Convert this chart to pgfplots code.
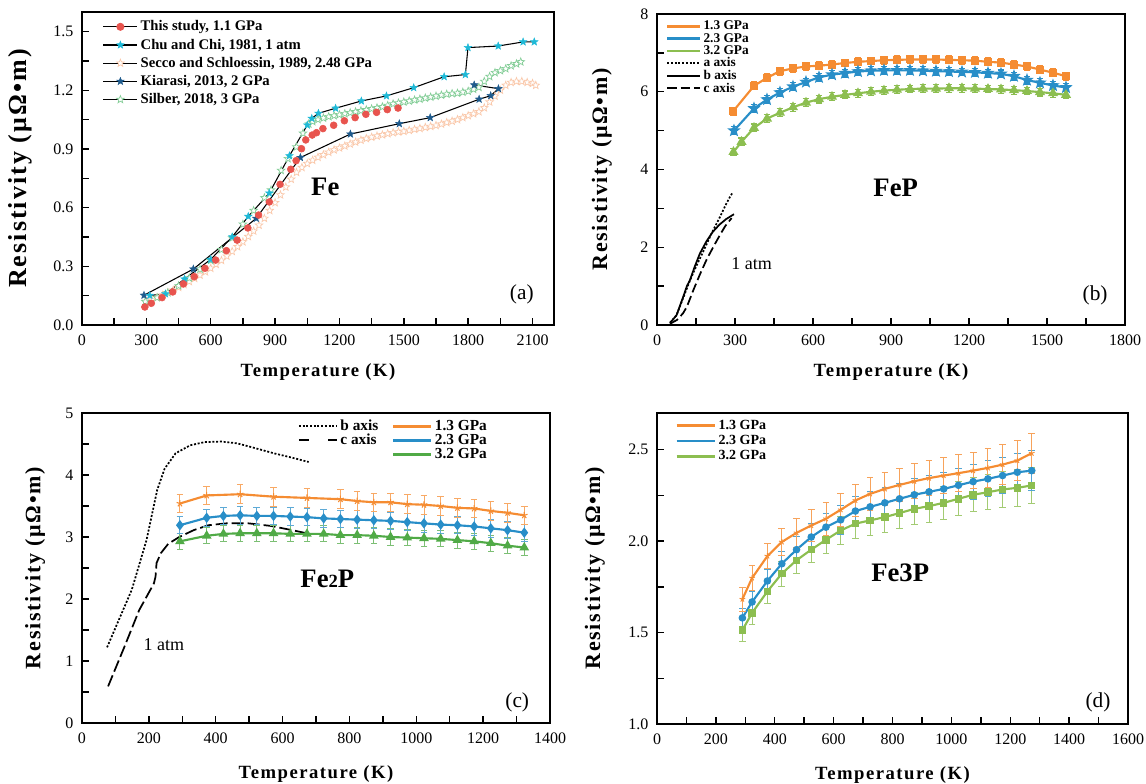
\documentclass[border=0pt]{standalone}
\usepackage{fontspec}
\setmainfont{Liberation Serif}
\newfontfamily\labfont[LetterSpace=8]{Liberation Serif}
\usepackage{pgfplots}
\pgfplotsset{compat=1.18}
\usetikzlibrary{plotmarks}

\definecolor{redc}{RGB}{232,84,78}
\definecolor{cyanc}{RGB}{30,185,215}
\definecolor{peach}{RGB}{250,200,170}
\definecolor{dblue}{RGB}{30,90,140}
\definecolor{lgreen}{RGB}{130,205,150}
\definecolor{orng}{RGB}{245,140,50}
\definecolor{blu}{RGB}{40,142,200}
\definecolor{grnb}{RGB}{140,190,80}
\definecolor{grnc}{RGB}{80,170,70}

% filled five-pointed star
\pgfdeclareplotmark{fstar}{%
  \pgfpathmoveto{\pgfpointpolar{90}{\pgfplotmarksize}}%
  \pgfpathlineto{\pgfpointpolar{126}{0.42\pgfplotmarksize}}%
  \pgfpathlineto{\pgfpointpolar{162}{\pgfplotmarksize}}%
  \pgfpathlineto{\pgfpointpolar{198}{0.42\pgfplotmarksize}}%
  \pgfpathlineto{\pgfpointpolar{234}{\pgfplotmarksize}}%
  \pgfpathlineto{\pgfpointpolar{270}{0.42\pgfplotmarksize}}%
  \pgfpathlineto{\pgfpointpolar{306}{\pgfplotmarksize}}%
  \pgfpathlineto{\pgfpointpolar{342}{0.42\pgfplotmarksize}}%
  \pgfpathlineto{\pgfpointpolar{18}{\pgfplotmarksize}}%
  \pgfpathlineto{\pgfpointpolar{54}{0.42\pgfplotmarksize}}%
  \pgfpathclose\pgfusepathqfillstroke}

\pgfplotsset{
  panel/.style={
    scale only axis, anchor=south west,
    axis line style={line width=1.1pt},
    every tick/.style={black, line width=1.1pt},
    major tick length=5pt, minor tick length=5pt,
    tick align=inside, xtick pos=lower, ytick pos=left,
    ticklabel style={font=\fontsize{12}{14}\selectfont},
    xticklabel style={yshift=-4pt}, yticklabel style={xshift=-3pt},
    /pgf/number format/assume math mode=true,
    /pgf/number format/1000 sep={},
    scaled ticks=false,
    xlabel={Temperature (K)}, ylabel={Resistivity (μΩ•m)},
    xlabel style={font=\labfont\bfseries\fontsize{14}{16}\selectfont},
    ylabel style={font=\labfont\bfseries\fontsize{16.5}{18}\selectfont},
    legend cell align=left,
  },
}

\begin{document}
\begin{tikzpicture}
\path[use as bounding box] (0,0) rectangle (859.5pt,588pt);

% ---------------- (a) Fe
\begin{axis}[panel, at={(61.5pt,344.25pt)}, width=354pt, height=234.75pt,
  xmin=0, xmax=2200, ymin=0, ymax=1.6,
  xtick={0,300,600,900,1200,1500,1800,2100}, minor x tick num=1,
  ytick={0,0.3,0.6,0.9,1.2,1.5}, minor y tick num=1,
  yticklabel style={/pgf/number format/.cd, fixed, fixed zerofill, precision=1},
  xlabel style={at={(rel axis cs:0.5,-0.15)}, anchor=center},
  ylabel style={at={(rel axis cs:-0.13,0.5)}, anchor=center, font=\labfont\bfseries\fontsize{19.5}{21}\selectfont},
  legend image code/.code={\draw[mark repeat=2,mark phase=2,#1] plot coordinates {(0cm,0cm) (0.45cm,0cm) (0.9cm,0cm)};},
  legend style={at={(0.035,0.99)}, anchor=north west, draw=none, fill=none,
    font=\bfseries\fontsize{11}{12}\selectfont, row sep=0.5pt},
]
\addlegendimage{black, line width=0.8pt, mark=*, mark options={draw=redc, fill=redc, mark size=2.6pt}}
\addlegendentry{This study, 1.1 GPa}
\addlegendimage{black, line width=0.8pt, mark=fstar, mark options={draw=cyanc, fill=cyanc, mark size=3pt, line width=0.3pt}}
\addlegendentry{Chu and Chi, 1981, 1 atm}
\addlegendimage{black, line width=0.8pt, mark=fstar, mark options={draw=peach, fill=white, mark size=3pt, line width=0.5pt}}
\addlegendentry{Secco and Schloessin, 1989, 2.48 GPa}
\addlegendimage{black, line width=0.8pt, mark=fstar, mark options={draw=dblue, fill=dblue, mark size=3pt, line width=0.3pt}}
\addlegendentry{Kiarasi, 2013, 2 GPa}
\addlegendimage{black, line width=0.8pt, mark=fstar, mark options={draw=lgreen, fill=white, mark size=3pt, line width=0.5pt}}
\addlegendentry{Silber, 2018, 3 GPa}

% Secco and Schloessin
\addplot[forget plot, only marks, mark=fstar, mark size=3pt, mark options={draw=peach, fill=white, line width=0.5pt}] coordinates {
(300,0.120) (325,0.128) (350,0.140) (375,0.152) (400,0.165) (425,0.178) (450,0.192) (475,0.207)
(500,0.222) (525,0.238) (550,0.255) (575,0.272) (600,0.290) (625,0.310) (650,0.330) (675,0.352)
(700,0.376) (725,0.400) (750,0.425) (775,0.452) (800,0.480) (825,0.510) (850,0.545) (875,0.585)
(900,0.625) (925,0.665) (950,0.705) (975,0.745) (1000,0.780) (1025,0.805) (1050,0.825) (1075,0.842)
(1100,0.857) (1125,0.870) (1150,0.883) (1175,0.895) (1200,0.905) (1225,0.915) (1250,0.925) (1275,0.935)
(1300,0.945) (1325,0.953) (1350,0.960) (1375,0.966) (1400,0.972) (1425,0.978) (1450,0.983) (1475,0.987)
(1500,0.990) (1525,0.995) (1550,1.000) (1575,1.005) (1600,1.010) (1625,1.015) (1650,1.020) (1675,1.027)
(1700,1.035) (1725,1.042) (1750,1.050) (1775,1.060) (1800,1.070) (1825,1.080) (1850,1.090) (1875,1.110)
(1900,1.140) (1925,1.170) (1950,1.200) (1975,1.225) (2000,1.240) (2025,1.245) (2050,1.245) (2075,1.240)
(2100,1.235) (2115,1.225)};
% Silber
\addplot[forget plot, only marks, mark=fstar, mark size=3pt, mark options={draw=lgreen, fill=white, line width=0.5pt}] coordinates {
(295,0.120) (350,0.140) (400,0.165) (450,0.200) (500,0.240) (550,0.285) (600,0.330) (650,0.385)
(700,0.445) (750,0.515) (800,0.585) (850,0.650) (881,0.690) (928,0.790) (960,0.850) (999,0.910) (1030,0.980)
(1057,1.027) (1075,1.040) (1100,1.050) (1125,1.058) (1150,1.065) (1175,1.070) (1200,1.075) (1225,1.080)
(1250,1.085) (1275,1.090) (1300,1.095) (1325,1.100) (1350,1.105) (1375,1.110) (1400,1.115) (1425,1.122)
(1450,1.130) (1475,1.135) (1500,1.140) (1525,1.145) (1550,1.150) (1575,1.155) (1600,1.160) (1625,1.165)
(1650,1.170) (1675,1.175) (1700,1.180) (1725,1.183) (1750,1.185) (1775,1.190) (1800,1.195) (1825,1.205)
(1850,1.215) (1875,1.245) (1900,1.270) (1925,1.290) (1950,1.300) (1975,1.310) (2000,1.325) (2025,1.335)
(2045,1.345)};
% Kiarasi
\addplot[forget plot, black, line width=0.8pt, mark=fstar, mark size=3pt, mark options={draw=dblue, fill=dblue, line width=0.3pt}] coordinates {
(289,0.152) (519,0.286) (812,0.545) (1018,0.856) (1251,0.976) (1479,1.029) (1623,1.060)
(1851,1.154) (1905,1.172) (1941,1.208) (1828,1.227)};
% Chu and Chi
\addplot[forget plot, black, line width=0.8pt, mark=fstar, mark size=3pt, mark options={draw=cyanc, fill=cyanc, line width=0.3pt}] coordinates {
(316,0.151) (389,0.159) (478,0.235) (600,0.335) (700,0.450) (775,0.555) (873,0.674) (967,0.865)
(1050,1.022) (1071,1.056) (1102,1.082) (1182,1.108) (1302,1.145) (1419,1.171) (1546,1.213)
(1688,1.269) (1787,1.280) (1799,1.418) (1940,1.426) (2056,1.447) (2108,1.447)};
% This study
\addplot[forget plot, only marks, mark=*, mark size=2.6pt, mark options={draw=redc, fill=redc}] coordinates {
(293,0.092) (323,0.111) (373,0.140) (423,0.169) (473,0.210) (523,0.247) (573,0.290) (623,0.332)
(673,0.380) (723,0.434) (773,0.496) (823,0.562) (873,0.629) (923,0.719) (973,0.796) (998,0.840)
(1023,0.901) (1043,0.946) (1073,0.971) (1093,0.983) (1123,1.004) (1173,1.021) (1223,1.044)
(1273,1.060) (1323,1.077) (1373,1.087) (1423,1.101) (1473,1.109)};
\node at (axis cs:1134,0.707) {\fontsize{20}{21}\selectfont\bfseries Fe};
\node at (axis cs:2050,0.157) {\fontsize{16}{17}\selectfont (a)};
\end{axis}

% ---------------- (b) FeP
\begin{axis}[panel, at={(492.75pt,344.25pt)}, width=351pt, height=233.25pt,
  xmin=0, xmax=1800, ymin=0, ymax=8,
  xtick={0,300,600,900,1200,1500,1800}, minor x tick num=1,
  ytick={0,2,4,6,8}, minor y tick num=1,
  xlabel style={at={(rel axis cs:0.5,-0.15)}, anchor=center},
  ylabel style={at={(rel axis cs:-0.118,0.5)}, anchor=center},
  legend image code/.code={\draw[#1] (0cm,0cm) -- (0.85cm,0cm);},
  legend style={at={(0.01,0.995)}, anchor=north west, draw=none, fill=none,
    font=\bfseries\fontsize{10}{10}\selectfont, row sep=-3pt},
]
\addlegendimage{orng, line width=2pt}\addlegendentry{1.3 GPa}
\addlegendimage{blu, line width=2pt}\addlegendentry{2.3 GPa}
\addlegendimage{grnb, line width=2pt}\addlegendentry{3.2 GPa}
\addlegendimage{black, line width=1.5pt, dash pattern=on 1.5pt off 1.3pt}\addlegendentry{a axis}
\addlegendimage{black, line width=1.5pt}\addlegendentry{b axis}
\addlegendimage{black, line width=1.5pt, dash pattern=on 7pt off 3pt}\addlegendentry{c axis}

\addplot[forget plot, orng, line width=1.6pt, mark=square*, mark size=2.2pt,
  error bars/.cd, y dir=both, y fixed=0.1, error bar style={line width=0.8pt}, error mark options={rotate=90, mark size=2.5pt, line width=0.8pt}]
coordinates {
(293,5.50) (373,6.15) (423,6.36) (473,6.53) (523,6.60) (573,6.65) (623,6.67) (673,6.70)
(723,6.74) (773,6.77) (823,6.79) (873,6.81) (923,6.82) (973,6.83) (1023,6.83) (1073,6.83)
(1123,6.82) (1173,6.81) (1223,6.80) (1273,6.77) (1323,6.75) (1373,6.70) (1423,6.65) (1473,6.57)
(1523,6.49) (1573,6.40)};
\addplot[forget plot, blu, line width=1.6pt, mark=fstar, mark size=3pt,
  error bars/.cd, y dir=both, y fixed=0.1, error bar style={line width=0.8pt}, error mark options={rotate=90, mark size=2.5pt, line width=0.8pt}]
coordinates {
(296,5.00) (373,5.57) (423,5.80) (473,5.98) (523,6.13) (573,6.25) (623,6.37) (673,6.44)
(723,6.48) (773,6.52) (823,6.54) (873,6.55) (923,6.55) (973,6.55) (1023,6.54) (1073,6.53)
(1123,6.52) (1173,6.51) (1223,6.50) (1273,6.48) (1323,6.46) (1373,6.40) (1423,6.30) (1473,6.23)
(1523,6.16) (1573,6.11)};
\addplot[forget plot, grnb, line width=1.6pt, mark=triangle*, mark size=2.8pt,
  error bars/.cd, y dir=both, y fixed=0.1, error bar style={line width=0.8pt}, error mark options={rotate=90, mark size=2.5pt, line width=0.8pt}]
coordinates {
(294,4.45) (325,4.71) (373,5.07) (423,5.31) (473,5.46) (523,5.60) (573,5.72) (623,5.81)
(673,5.87) (723,5.92) (773,5.96) (823,6.00) (873,6.03) (923,6.05) (973,6.07) (1023,6.08)
(1073,6.08) (1123,6.09) (1173,6.09) (1223,6.08) (1273,6.07) (1323,6.06) (1373,6.04) (1423,6.02)
(1473,5.99) (1523,5.96) (1573,5.92)};
% 1 atm single crystal data
\addplot[forget plot, black, line width=1.3pt, dash pattern=on 1.5pt off 1.3pt] coordinates {
(50,0.06) (75,0.25) (101,0.70) (127,1.15) (150,1.50) (175,1.85) (210,2.36) (240,2.75) (265,3.10) (281,3.30) (292,3.42)};
\addplot[forget plot, black, line width=1.3pt] coordinates {
(50,0.05) (75,0.25) (101,0.73) (115,1.00) (127,1.16) (145,1.50) (165,1.84) (190,2.15) (215,2.40) (240,2.58) (265,2.72) (296,2.85)};
\addplot[forget plot, black, line width=1.3pt, dash pattern=on 7pt off 3pt] coordinates {
(50,0.03) (77,0.13) (100,0.30) (115,0.47) (140,0.90) (165,1.30) (192,1.70) (220,2.05) (245,2.35) (263,2.55) (287,2.75)};
\node at (axis cs:918,3.52) {\fontsize{20}{21}\selectfont\bfseries FeP};
\node at (axis cs:364,1.59) {\fontsize{13.5}{14}\selectfont 1 atm};
\node at (axis cs:1685,0.75) {\fontsize{16}{17}\selectfont (b)};
\end{axis}

% ---------------- (c) Fe2P
\begin{axis}[panel, at={(61.5pt,45.75pt)}, width=351pt, height=232.5pt,
  xmin=0, xmax=1400, ymin=0, ymax=5,
  xtick={0,200,400,600,800,1000,1200,1400}, minor x tick num=1,
  ytick={0,1,2,3,4,5}, minor y tick num=1,
  xlabel style={at={(rel axis cs:0.5,-0.163)}, anchor=center},
  ylabel style={at={(rel axis cs:-0.1,0.5)}, anchor=center},
  legend columns=2,
  legend image code/.code={\draw[#1] (0cm,0cm) -- (1cm,0cm);},
  legend style={at={(0.88,0.995)}, anchor=north east, draw=none, fill=none,
    font=\bfseries\fontsize{11.5}{12}\selectfont, row sep=-3pt,
    /tikz/every even column/.append style={column sep=8pt}},
]
\addlegendimage{black, line width=1.5pt, dash pattern=on 1.5pt off 1.3pt}\addlegendentry{b axis}
\addlegendimage{orng, line width=2pt}\addlegendentry{1.3 GPa}
\addlegendimage{black, line width=1.5pt, dash pattern=on 8pt off 14pt}\addlegendentry{c axis}
\addlegendimage{blu, line width=2pt}\addlegendentry{2.3 GPa}
\addlegendimage{empty legend}\addlegendentry{}
\addlegendimage{grnc, line width=2pt}\addlegendentry{3.2 GPa}

\addplot[forget plot, black, line width=1.3pt, dash pattern=on 1.5pt off 1.3pt] coordinates {
(75,1.22) (106,1.61) (149,2.15) (193,2.95) (225,3.76) (247,4.10) (280,4.35) (324,4.48) (367,4.53)
(416,4.54) (465,4.51) (520,4.43) (574,4.35) (628,4.28) (678,4.21)};
\addplot[forget plot, black, line width=1.3pt, dash pattern=on 9pt off 3pt] coordinates {
(78,0.59) (127,1.23) (171,1.82) (215,2.25) (220,2.36) (223,2.58) (236,2.74) (258,2.89) (291,3.00)
(334,3.11) (378,3.19) (432,3.22) (498,3.22) (563,3.18) (629,3.11) (672,3.06)};
\addplot[forget plot, grnc, line width=1.6pt, mark=triangle*, mark size=2.6pt,
  error bars/.cd, y dir=both, y fixed=0.13, error bar style={grnc!75, line width=0.7pt}, error mark options={rotate=90, mark size=2.5pt, line width=0.7pt}]
coordinates {
(293,2.93) (373,3.02) (423,3.05) (473,3.06) (523,3.06) (573,3.06) (623,3.05) (673,3.05) (723,3.05)
(773,3.03) (823,3.03) (873,3.02) (923,3.00) (973,2.99) (1023,2.98) (1073,2.97) (1123,2.95)
(1173,2.93) (1223,2.90) (1273,2.86) (1323,2.83)};
\addplot[forget plot, blu, line width=1.6pt, mark=diamond*, mark size=2.6pt,
  error bars/.cd, y dir=both, y fixed=0.14, error bar style={blu!75, line width=0.7pt}, error mark options={rotate=90, mark size=2.5pt, line width=0.7pt}]
coordinates {
(293,3.19) (373,3.31) (423,3.34) (473,3.35) (523,3.34) (573,3.34) (623,3.33) (673,3.32) (723,3.30)
(773,3.29) (823,3.28) (873,3.27) (923,3.26) (973,3.24) (1023,3.22) (1073,3.20) (1123,3.19)
(1173,3.17) (1223,3.14) (1273,3.11) (1323,3.07)};
\addplot[forget plot, orng, line width=1.6pt, mark=star, mark size=2.6pt, mark options={line width=0.8pt},
  error bars/.cd, y dir=both, y fixed=0.15, error bar style={orng!75, line width=0.7pt}, error mark options={rotate=90, mark size=2.5pt, line width=0.7pt}]
coordinates {
(293,3.54) (373,3.67) (473,3.69) (573,3.65) (673,3.63) (773,3.61) (823,3.58) (873,3.56) (923,3.56)
(973,3.53) (1023,3.52) (1073,3.50) (1123,3.47) (1173,3.46) (1223,3.42) (1273,3.39) (1323,3.35)};
\node at (axis cs:734,2.33) {\fontsize{20}{21}\selectfont\bfseries Fe{\fontsize{14}{15}\selectfont 2}P};
\node at (axis cs:245,1.26) {\fontsize{13.5}{14}\selectfont 1 atm};
\node at (axis cs:1302,0.33) {\fontsize{16}{17}\selectfont (c)};
\end{axis}

% ---------------- (d) Fe3P
\begin{axis}[panel, at={(492.75pt,45pt)}, width=353.25pt, height=233.25pt,
  xmin=0, xmax=1600, ymin=1, ymax=2.7,
  xtick={0,200,400,600,800,1000,1200,1400,1600}, minor x tick num=1,
  ytick={1,1.5,2,2.5}, minor y tick num=1,
  yticklabel style={/pgf/number format/.cd, fixed, fixed zerofill, precision=1},
  xlabel style={at={(rel axis cs:0.5,-0.163)}, anchor=center},
  ylabel style={at={(rel axis cs:-0.132,0.5)}, anchor=center},
  legend image code/.code={\draw[#1] (0cm,0cm) -- (1cm,0cm);},
  legend style={at={(0.03,0.995)}, anchor=north west, draw=none, fill=none,
    font=\bfseries\fontsize{10.5}{11}\selectfont, row sep=-1pt},
]
\addlegendimage{orng, line width=2pt}\addlegendentry{1.3 GPa}
\addlegendimage{blu, line width=2pt}\addlegendentry{2.3 GPa}
\addlegendimage{grnb, line width=2pt}\addlegendentry{3.2 GPa}

\addplot[forget plot, grnb, line width=1.6pt, mark=square*, mark size=2pt,
  error bars/.cd, y dir=both, y explicit, error bar style={grnb!80, line width=0.7pt}, error mark options={rotate=90, mark size=2.5pt, line width=0.7pt}]
table[x=T, y=R, y error=E] {
T R E
290 1.513 0.060
323 1.607 0.062
375 1.725 0.065
424 1.822 0.068
474 1.895 0.070
524 1.953 0.072
574 2.007 0.075
624 2.058 0.078
674 2.095 0.080
724 2.113 0.082
774 2.131 0.083
824 2.153 0.085
874 2.176 0.087
924 2.191 0.088
974 2.209 0.090
1024 2.231 0.092
1074 2.253 0.094
1124 2.267 0.096
1174 2.282 0.098
1224 2.291 0.100
1273 2.304 0.100
};
\addplot[forget plot, blu, line width=1.6pt, mark=*, mark size=2pt,
  error bars/.cd, y dir=both, y explicit, error bar style={blu!80, line width=0.7pt}, error mark options={rotate=90, mark size=2.5pt, line width=0.7pt}]
table[x=T, y=R, y error=E] {
T R E
290 1.580 0.050
323 1.667 0.055
375 1.782 0.060
424 1.876 0.065
474 1.953 0.070
524 2.022 0.072
574 2.076 0.075
624 2.116 0.078
674 2.164 0.080
724 2.187 0.082
774 2.209 0.084
824 2.231 0.086
874 2.253 0.088
924 2.269 0.090
974 2.285 0.092
1024 2.305 0.094
1074 2.325 0.096
1124 2.340 0.098
1174 2.358 0.100
1224 2.376 0.105
1273 2.385 0.110
};
\addplot[forget plot, orng, line width=1.6pt, mark=star, mark size=2.2pt, mark options={line width=0.7pt},
  error bars/.cd, y dir=both, y explicit, error bar style={orng!80, line width=0.7pt}, error mark options={rotate=90, mark size=2.5pt, line width=0.7pt}]
table[x=T, y=R, y error=E] {
T R E
290 1.682 0.065
323 1.798 0.070
375 1.918 0.070
424 1.995 0.075
474 2.045 0.080
524 2.085 0.085
574 2.122 0.090
624 2.171 0.090
674 2.222 0.090
724 2.258 0.090
774 2.285 0.090
824 2.307 0.090
874 2.327 0.095
924 2.344 0.095
974 2.358 0.100
1024 2.371 0.100
1074 2.385 0.100
1124 2.400 0.105
1174 2.418 0.110
1224 2.440 0.110
1273 2.480 0.110
};
\node at (axis cs:826,1.825) {\fontsize{20}{21}\selectfont\bfseries Fe3P};
\node at (axis cs:1498,1.116) {\fontsize{16}{17}\selectfont (d)};
\end{axis}
\end{tikzpicture}
\end{document}
